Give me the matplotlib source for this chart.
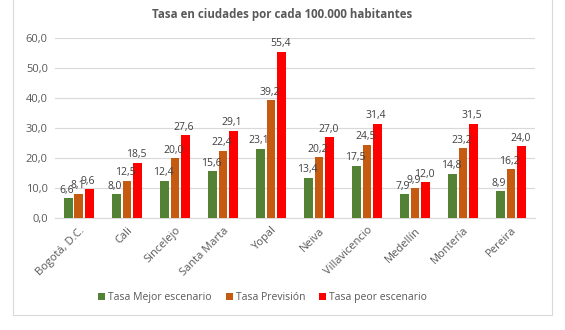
import numpy as np
import matplotlib
matplotlib.use("Agg")
import matplotlib.pyplot as plt
import matplotlib.patches as mpatches

plt.rcParams["font.family"] = ["Open Sans", "DejaVu Sans"]

cities = ["Bogotá, D.C.", "Cali", "Sincelejo", "Santa Marta", "Yopal",
          "Neiva", "Villavicencio", "Medellín", "Montería", "Pereira"]
mejor = [6.6, 8.0, 12.4, 15.6, 23.1, 13.4, 17.5, 7.9, 14.8, 8.9]
prevision = [8.1, 12.5, 20.0, 22.4, 39.2, 20.2, 24.5, 9.9, 23.2, 16.2]
peor = [9.6, 18.5, 27.6, 29.1, 55.4, 27.0, 31.4, 12.0, 31.5, 24.0]

series = [
    ("Tasa Mejor escenario", mejor, "#548235"),
    ("Tasa Previsión", prevision, "#C55A11"),
    ("Tasa peor escenario", peor, "#FF0000"),
]

txt = "#595959"
fig = plt.figure(figsize=(5.65, 3.30), dpi=100)
fig.patches.append(mpatches.Rectangle((13 / 565, 15 / 330), 539 / 565, 0.99,
                                      transform=fig.transFigure, fill=False,
                                      edgecolor="#d9d9d9", lw=0.8))
ax = fig.add_axes([0.097, 0.339, 0.85, 0.546])

x = np.arange(len(cities))
w = 0.22
for i, (name, vals, color) in enumerate(series):
    pos = x + (i - 1) * w
    bars = ax.bar(pos, vals, width=w * 0.82, color=color, label=name, zorder=3)
    for b, v in zip(bars, vals):
        # Excel-style labels sit a bit left of the bar centre
        ax.text(b.get_x() + b.get_width() * 0.35, v + 0.8, f"{v:.1f}".replace(".", ","),
                ha="center", va="bottom", fontsize=7.5, color="#404040", zorder=4)

ax.set_ylim(0, 60)
ax.set_xlim(-0.5, len(cities) - 0.5)
ax.set_yticks(range(0, 61, 10))
ax.set_yticklabels([f"{t},0" for t in range(0, 61, 10)], fontsize=8, color=txt)
ax.set_xticks(x)
ax.set_xticklabels(cities, rotation=45, ha="right", rotation_mode="anchor",
                   fontsize=8, color=txt)
ax.tick_params(length=0, pad=5)
ax.grid(axis="y", color="#d9d9d9", lw=0.8, zorder=0)
for s in ["top", "right", "left"]:
    ax.spines[s].set_visible(False)
ax.spines["bottom"].set_color("#d9d9d9")

fig.text(0.5, 0.955, "Tasa en ciudades por cada 100.000 habitantes",
         ha="center", va="center", fontsize=8.3, fontweight="bold", color=txt)
fig.legend(loc="center", bbox_to_anchor=(0.465, 0.098), ncol=3, frameon=False,
           fontsize=7.5, handlelength=0.7, handleheight=0.7, handletextpad=0.3,
           columnspacing=1.3, labelcolor=txt)

fig.savefig("out.png", dpi=100)
